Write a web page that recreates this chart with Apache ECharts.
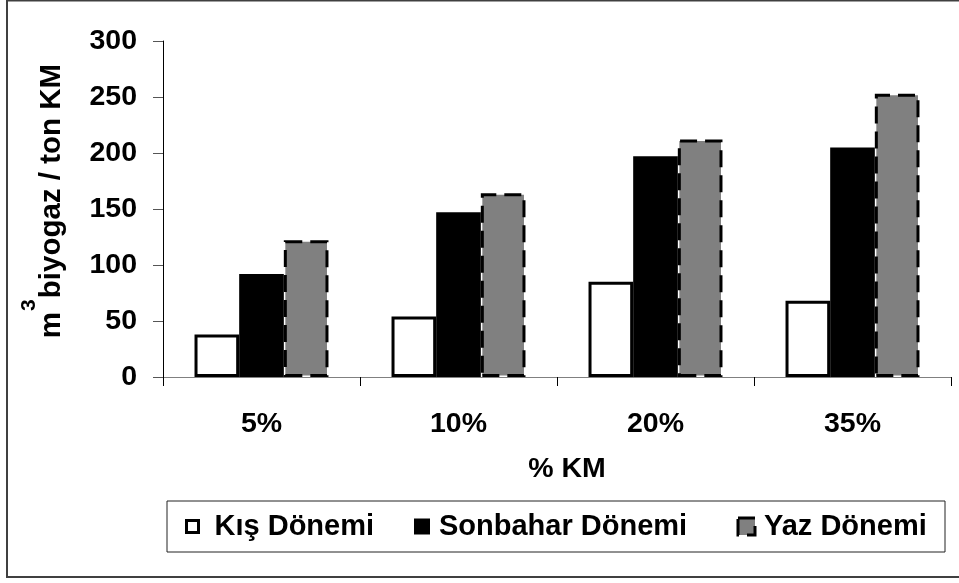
<!DOCTYPE html>
<html>
<head>
<meta charset="utf-8">
<script src="https://cdn.jsdelivr.net/npm/echarts@6/dist/echarts.min.js"></script>
<style>
  html, body { margin: 0; padding: 0; background: #ffffff; }
  #chart { width: 959px; height: 583px; }
</style>
</head>
<body>
<div id="chart"></div>
<script>
// Biogas yield per ton of dry matter, by dry-matter ratio and season
const categories = ['5%', '10%', '20%', '35%'];
const seriesNames = ['Kış Dönemi', 'Sonbahar Dönemi', 'Yaz Dönemi'];
const kisValues = [38, 54, 85, 68];
const sonbaharValues = [92, 147, 197, 205];
const yazValues = [122, 164, 212, 253];
const yMin = 0;
const yMax = 300;
const yStep = 50;

const FONT = "'Liberation Sans', Arial, sans-serif";

const chart = echarts.init(document.getElementById('chart'), null, { renderer: 'canvas' });

const boldText = (size) => ({
  fontFamily: FONT,
  fontWeight: 'bold',
  fontSize: size,
  color: '#000'
});

const styles = {
  kis: { color: '#ffffff', borderColor: '#000000', borderWidth: 3 },
  sonbahar: { color: '#000000', borderWidth: 0 },
  yaz: { color: '#808080', borderColor: '#000000', borderWidth: 3, borderType: [17, 8] }
};

const legendBase = (name, left, size, style, padLeft) => ({
  data: [{ name: name, icon: 'rect' }],
  left: left,
  top: 512,
  padding: 0,
  itemWidth: size,
  itemHeight: size,
  itemStyle: style,
  textStyle: Object.assign(boldText(29), { padding: [0, 0, 0, padLeft] }),
  selectedMode: false
});

chart.setOption({
  animation: false,
  backgroundColor: '#ffffff',
  grid: { left: 163, right: 8, top: 41, bottom: 206, containLabel: false },
  xAxis: {
    type: 'category',
    data: categories,
    name: '% KM',
    nameLocation: 'middle',
    nameGap: 78,
    nameTextStyle: Object.assign(boldText(28.5), { padding: [0, 0, 0, 20] }),
    axisLine: { lineStyle: { color: '#808080', width: 1 } },
    axisTick: { show: true, length: 9, lineStyle: { color: '#000', width: 1 } },
    axisLabel: Object.assign(boldText(28.5), { margin: 33 })
  },
  yAxis: {
    type: 'value',
    min: yMin,
    max: yMax,
    interval: yStep,
    name: '{m|m}{s|3}{t|biyogaz / ton KM}',
    nameLocation: 'middle',
    nameRotate: 90,
    nameGap: 96,
    nameTextStyle: {
      padding: [0, 0, 0, 16],
      rich: {
        m: Object.assign(boldText(29.5), { verticalAlign: 'bottom' }),
        s: Object.assign(boldText(21), { verticalAlign: 'bottom', padding: [0, 1, 27, 1] }),
        t: Object.assign(boldText(29.5), { verticalAlign: 'bottom' })
      }
    },
    splitLine: { show: false },
    axisLine: { show: true, lineStyle: { color: '#000', width: 1 } },
    axisTick: { show: true, length: 10, lineStyle: { color: '#555', width: 1 } },
    axisLabel: Object.assign(boldText(28.5), { margin: 26 })
  },
  legend: [
    legendBase(seriesNames[0], 185, 12, styles.kis, 11),
    legendBase(seriesNames[1], 414, 16, styles.sonbahar, 4),
    legendBase(seriesNames[2], 736.5, 17, styles.yaz, 4)
  ],
  graphic: [
    {
      type: 'rect',
      shape: { x: 7, y: 0.5, width: 960, height: 576.5 },
      style: { fill: null, stroke: '#404040', lineWidth: 2 },
      silent: true
    },
    {
      type: 'rect',
      shape: { x: 167, y: 501, width: 778, height: 51 },
      style: { fill: null, stroke: '#222', lineWidth: 1 },
      silent: true
    }
  ],
  series: [
    {
      name: seriesNames[0],
      type: 'bar',
      data: kisValues,
      barGap: '0%',
      barCategoryGap: '32%',
      itemStyle: styles.kis
    },
    {
      name: seriesNames[1],
      type: 'bar',
      data: sonbaharValues,
      barGap: '0%',
      barCategoryGap: '32%',
      itemStyle: styles.sonbahar
    },
    {
      name: seriesNames[2],
      type: 'bar',
      data: yazValues,
      barGap: '0%',
      barCategoryGap: '32%',
      itemStyle: styles.yaz
    }
  ]
});
</script>
</body>
</html>
